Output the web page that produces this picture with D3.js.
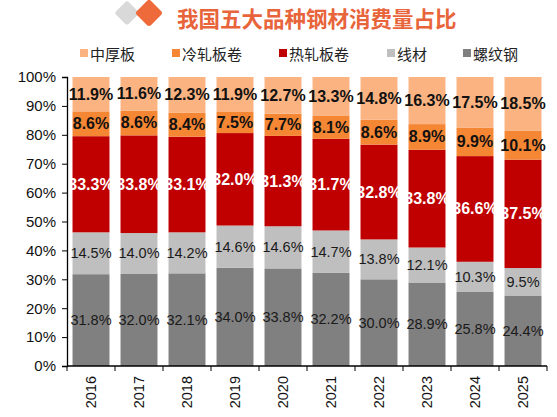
<!DOCTYPE html>
<html><head><meta charset="utf-8">
<script src="https://cdn.jsdelivr.net/npm/d3@7"></script>
<style>body{margin:0;background:#fff}svg{display:block}</style>
</head><body>
<svg id="c" width="557" height="417"></svg>
<script>
const years = ["2016","2017","2018","2019","2020","2021","2022","2023","2024","2025"];
const seriesNames = ["螺纹钢","线材","热轧板卷","冷轧板卷","中厚板"];
const rebar = [31.8,32.0,32.1,34.0,33.8,32.2,30.0,28.9,25.8,24.4];
const wire  = [14.5,14.0,14.2,14.6,14.6,14.7,13.8,12.1,10.3,9.5];
const hotRolled = [33.3,33.8,33.1,32.0,31.3,31.7,32.8,33.8,36.6,37.5];
const coldRolled = [8.6,8.6,8.4,7.5,7.7,8.1,8.6,8.9,9.9,10.1];
const plate = [11.9,11.6,12.3,11.9,12.7,13.3,14.8,16.3,17.5,18.5];
const yTicks = [0,0.1,0.2,0.3,0.4,0.5,0.6,0.7,0.8,0.9,1];
const legendOrder = ["中厚板","冷轧板卷","热轧板卷","线材","螺纹钢"];
const title = "我国五大品种钢材消费量占比";

const colors = {"螺纹钢":"#808080","线材":"#BFBFBF","热轧板卷":"#C00000","冷轧板卷":"#F58634","中厚板":"#FBB481"};
const labelStyle = {
  "螺纹钢":{fill:"#1a1a1a",weight:"normal",size:14.5},
  "线材":{fill:"#1a1a1a",weight:"normal",size:14.5},
  "热轧板卷":{fill:"#ffffff",weight:"bold",size:16},
  "冷轧板卷":{fill:"#111",weight:"bold",size:16},
  "中厚板":{fill:"#111",weight:"bold",size:16}
};
const seriesData = [rebar, wire, hotRolled, coldRolled, plate];
const table = years.map((y,i)=>{const o={year:y}; seriesNames.forEach((s,j)=>o[s]=seriesData[j][i]); return o;});

const svg = d3.select("#c");
const font = "'Liberation Sans', Arial, sans-serif";
const cjk = "'Noto Sans CJK SC', sans-serif";

// title decoration
const dia = svg.append("g");
dia.append("rect").attr("x",-9).attr("y",-9).attr("width",18).attr("height",18).attr("rx",3)
  .attr("fill","#D9D9D9").attr("transform","translate(127,13) rotate(45)");
dia.append("rect").attr("x",-10).attr("y",-10).attr("width",20).attr("height",20).attr("rx",3)
  .attr("fill","#EE6A3A").attr("transform","translate(149,13) rotate(45)");
svg.append("text").attr("x",177).attr("y",17).attr("dominant-baseline","central")
  .attr("font-family",cjk).attr("font-weight","bold").attr("font-size",21.5)
  .attr("fill","#E8643A").text(title);

// legend
const legX = [80,172,279,387,463];
legendOrder.forEach((n,i)=>{
  const g = svg.append("g").attr("transform",`translate(${legX[i]},53)`);
  g.append("rect").attr("x",0).attr("y",-4).attr("width",8).attr("height",8).attr("fill",colors[n]);
  g.append("text").attr("x",10).attr("y",0).attr("dominant-baseline","central")
    .attr("font-family",cjk).attr("font-size",15).attr("fill","#222").text(n);
});

const pLeft=67, pRight=547, pTop=77, pBottom=366;
const x = d3.scaleBand().domain(years).range([pLeft,pRight]).paddingInner(0.23).paddingOuter(0.115);
const y = d3.scaleLinear().domain([0,1]).range([pBottom,pTop]);

const stack = d3.stack().keys(seriesNames).offset(d3.stackOffsetExpand);
const layers = stack(table);

layers.forEach(layer=>{
  const g = svg.append("g");
  g.selectAll("rect").data(layer).join("rect")
    .attr("x",d=>x(d.data.year)).attr("width",x.bandwidth())
    .attr("y",d=>y(d[1])).attr("height",d=>y(d[0])-y(d[1]))
    .attr("fill",colors[layer.key]);
});
layers.forEach(layer=>{
  const st = labelStyle[layer.key];
  svg.append("g").selectAll("text").data(layer).join("text")
    .attr("x",d=>x(d.data.year)+x.bandwidth()/2)
    .attr("y",d=>y((d[0]+d[1])/2))
    .attr("text-anchor","middle").attr("dominant-baseline","central")
    .attr("font-family",font).attr("font-size",st.size).attr("font-weight",st.weight)
    .attr("fill",st.fill)
    .text(d=>d.data[layer.key].toFixed(1)+"%");
});

// y axis
const yAxis = d3.axisLeft(y).tickValues(yTicks).tickFormat(d3.format(".0%")).tickSize(5).tickPadding(6);
const ya = svg.append("g").attr("transform",`translate(${pLeft},0)`).call(yAxis);
ya.select(".domain").attr("stroke","#000").attr("stroke-width",1.3);
ya.selectAll(".tick line").attr("stroke","#000");
ya.selectAll("text").attr("font-family",font).attr("font-size",15).attr("fill","#111");

// x axis
const xa = svg.append("g").attr("transform",`translate(0,${pBottom})`);
xa.append("line").attr("x1",pLeft).attr("x2",pRight).attr("stroke","#000").attr("stroke-width",1.3);
const bounds = years.map(yv=>x(yv)-x.step()*x.paddingInner()/2).concat([pRight]);
xa.selectAll("line.t").data(bounds).join("line").attr("class","t")
  .attr("x1",d=>d).attr("x2",d=>d).attr("y1",0).attr("y2",5).attr("stroke","#000");
xa.selectAll("text").data(years).join("text")
  .attr("transform",d=>`translate(${x(d)+x.bandwidth()/2},10) rotate(-90)`)
  .attr("text-anchor","end").attr("dominant-baseline","central")
  .attr("font-family",font).attr("font-size",14.5).attr("fill","#111").text(d=>d);
</script>
</body></html>
